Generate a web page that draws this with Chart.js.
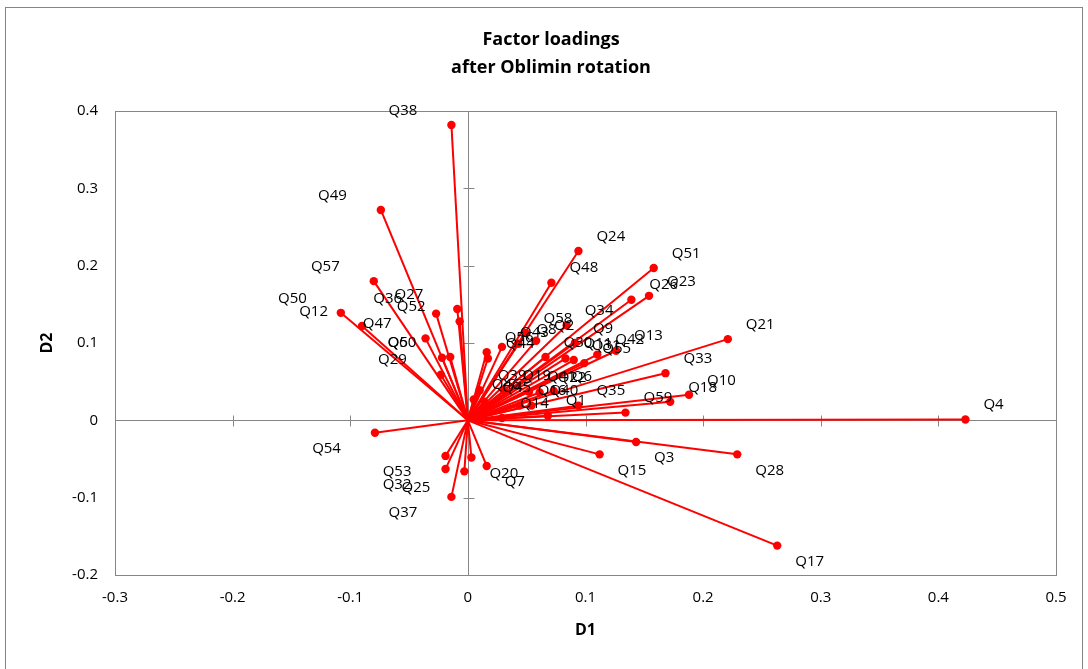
<!DOCTYPE html>
<html>
<head>
<meta charset="utf-8">
<script src="https://cdn.jsdelivr.net/npm/chart.js@4/dist/chart.umd.min.js"></script>
<style>
  html, body { margin: 0; padding: 0; background: #ffffff; }
  canvas { display: block; }
</style>
</head>
<body>
<canvas id="c" width="1088" height="669"></canvas>
<script>
// ---- data ----
const questions = [
  "Q1","Q2","Q3","Q4","Q5","Q6","Q7","Q8","Q9","Q10",
  "Q11","Q12","Q13","Q14","Q15","Q16","Q17","Q18","Q19","Q20",
  "Q21","Q22","Q23","Q24","Q25","Q26","Q27","Q28","Q29","Q30",
  "Q31","Q32","Q33","Q34","Q35","Q36","Q37","Q38","Q39","Q40",
  "Q41","Q42","Q43","Q44","Q45","Q46","Q47","Q48","Q49","Q50",
  "Q51","Q52","Q53","Q54","Q55","Q56","Q57","Q58","Q59","Q60"
];
const d1 = [
  0.068, 0.058, 0.143, 0.423, -0.022, 0.073, 0.016, 0.043, 0.091, 0.188,
  0.083, -0.090, 0.126, 0.029, 0.112, 0.044, 0.263, 0.172, 0.031, 0.003,
  0.221, 0.061, 0.154, 0.094, -0.003, 0.139, -0.009, 0.229, -0.023, 0.066,
  0.090, -0.019, 0.168, 0.084, 0.094, -0.027, -0.014, -0.014, 0.010, 0.054,
  0.052, 0.110, 0.029, 0.017, 0.014, 0.005, -0.036, 0.071, -0.074, -0.108,
  0.158, -0.007, -0.019, -0.079, 0.099, 0.016, -0.080, 0.049, 0.134, -0.015
];
const d2 = [
  0.006, 0.103, -0.028, 0.001, 0.081, 0.038, -0.059, 0.099, 0.100, 0.033,
  0.080, 0.122, 0.090, 0.003, -0.044, 0.019, -0.162, 0.024, 0.039, -0.048,
  0.105, 0.036, 0.161, 0.219, -0.066, 0.156, 0.144, -0.044, 0.059, 0.082,
  0.078, -0.063, 0.061, 0.123, 0.019, 0.138, -0.099, 0.382, 0.039, 0.019,
  0.037, 0.085, 0.095, 0.080, 0.024, 0.027, 0.106, 0.178, 0.272, 0.139,
  0.197, 0.128, -0.046, -0.016, 0.074, 0.088, 0.180, 0.113, 0.010, 0.082
];
const xTickValues = [-0.3, -0.2, -0.1, 0, 0.1, 0.2, 0.3, 0.4, 0.5];
const yTickValues = [-0.2, -0.1, 0, 0.1, 0.2, 0.3, 0.4];
const titleLines = ["Factor loadings", "after Oblimin rotation"];
const xTitle = "D1";
const yTitle = "D2";

// ---- styles ----
const RED = "#ff0000";
const GREY = "#868686";
const FONT = "'Open Sans', 'DejaVu Sans', sans-serif";

const datasets = questions.map((q, i) => ({
  label: q,
  data: [{x: 0, y: 0}, {x: d1[i], y: d2[i]}],
  showLine: true,
  borderColor: RED,
  backgroundColor: RED,
  borderWidth: 2,
  pointRadius: [0, 4.2],
  pointHoverRadius: [0, 4.2],
  pointBorderWidth: 0,
  clip: false
}));

function fmtTick(v) {
  if (Math.abs(v) < 1e-9) return "0";
  return (Math.round(v * 10) / 10).toString();
}

const framePlugin = {
  id: "frame",
  beforeDraw(chart) {
    const ctx = chart.ctx;
    ctx.save();
    ctx.fillStyle = "#ffffff";
    ctx.fillRect(0, 0, chart.width, chart.height);
    ctx.strokeStyle = GREY;
    ctx.lineWidth = 1;
    ctx.strokeRect(5.5, 7.5, chart.width - 11, chart.height - 4);
    ctx.restore();
  },
  beforeDatasetsDraw(chart) {
    const ctx = chart.ctx;
    const a = chart.chartArea;
    const xs = chart.scales.x, ys = chart.scales.y;
    ctx.save();
    ctx.strokeStyle = GREY;
    ctx.lineWidth = 1;
    ctx.strokeRect(Math.round(a.left) + 0.5, Math.round(a.top) + 0.5,
                   Math.round(a.right - a.left), Math.round(a.bottom - a.top));
    const x0 = Math.round(xs.getPixelForValue(0)) + 0.5;
    const y0 = Math.round(ys.getPixelForValue(0)) + 0.5;
    ctx.beginPath();
    ctx.moveTo(x0, a.top); ctx.lineTo(x0, a.bottom);
    ctx.moveTo(a.left, y0); ctx.lineTo(a.right, y0);
    // cross tick marks on the zero axes
    yTickValues.forEach(v => {
      const py = Math.round(ys.getPixelForValue(v)) + 0.5;
      ctx.moveTo(x0 - 5, py); ctx.lineTo(x0 + 6, py);
    });
    xTickValues.forEach(v => {
      const px = Math.round(xs.getPixelForValue(v)) + 0.5;
      ctx.moveTo(px, y0 - 5); ctx.lineTo(px, y0 + 6);
    });
    ctx.stroke();
    ctx.restore();
  },
  afterDatasetsDraw(chart) {
    const ctx = chart.ctx;
    const xs = chart.scales.x, ys = chart.scales.y;
    ctx.save();
    ctx.fillStyle = "#000000";
    ctx.font = "15px " + FONT;
    ctx.textBaseline = "middle";
    questions.forEach((q, i) => {
      const px = xs.getPixelForValue(d1[i]);
      const py = ys.getPixelForValue(d2[i]);
      const ly = d2[i] >= 0 ? py - 14.5 : py + 16;
      if (d1[i] >= 0) {
        ctx.textAlign = "left";
        ctx.fillText(q, px + 18, ly);
      } else {
        ctx.textAlign = "right";
        ctx.fillText(q, px - 34, ly);
      }
    });
    ctx.restore();
  }
};

new Chart(document.getElementById("c"), {
  type: "scatter",
  data: { datasets },
  plugins: [framePlugin],
  options: {
    responsive: false,
    animation: false,
    events: [],
    layout: { padding: { left: 46, right: 32, top: 0, bottom: 0 } },
    plugins: {
      legend: { display: false },
      tooltip: { enabled: false },
      title: {
        display: true,
        text: titleLines,
        color: "#000000",
        font: { family: FONT, size: 18, weight: "bold", lineHeight: 28 / 18 },
        padding: { top: 26, bottom: 29 }
      }
    },
    scales: {
      x: {
        type: "linear",
        min: -0.3, max: 0.5,
        afterBuildTicks(s) { s.ticks = xTickValues.map(v => ({ value: v })); },
        afterFit(s) { s.height = 94; },
        grid: { display: false, drawTicks: false },
        border: { display: false },
        ticks: { color: "#000000", font: { family: FONT, size: 15 }, padding: 14,
                 maxRotation: 0, callback: v => fmtTick(v) },
        title: { display: true, text: xTitle, color: "#000000",
                 font: { family: FONT, size: 16, weight: "bold" }, padding: { top: 0, bottom: 29 } }
      },
      y: {
        type: "linear",
        min: -0.2, max: 0.4,
        afterBuildTicks(s) { s.ticks = yTickValues.map(v => ({ value: v })); },
        afterFit(s) { s.width = 69; },
        grid: { display: false, drawTicks: false },
        border: { display: false },
        ticks: { color: "#000000", font: { family: FONT, size: 15 }, padding: 17,
                 callback: v => fmtTick(v) },
        title: { display: true, text: yTitle, color: "#000000",
                 font: { family: FONT, size: 16, weight: "bold" }, padding: { top: -8, bottom: 0 } }
      }
    }
  }
});
</script>
</body>
</html>
